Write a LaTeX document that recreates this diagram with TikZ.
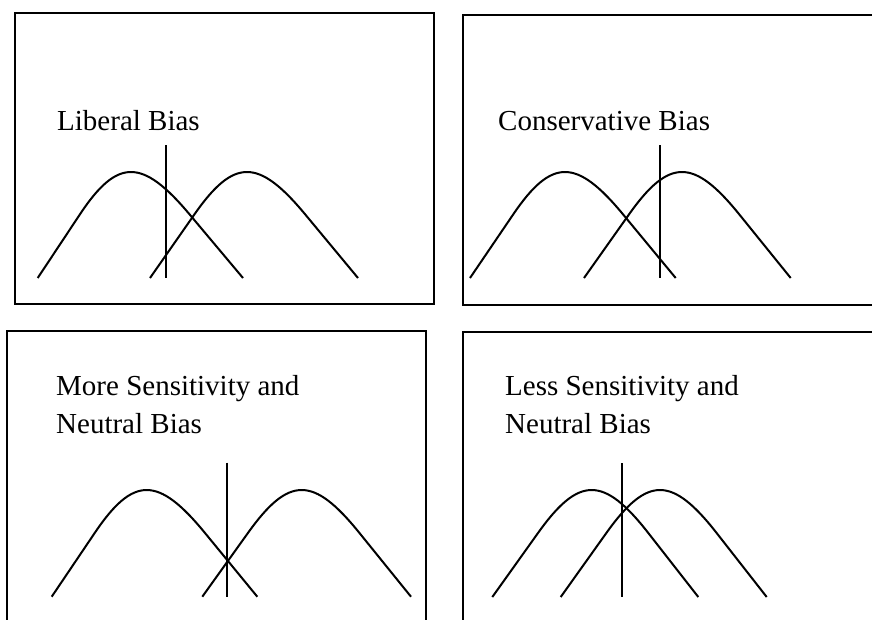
\documentclass[tikz,border=0pt]{standalone}
\usepackage{fontspec}
\usetikzlibrary{calc}
\setmainfont{Liberation Serif}
\begin{document}
\begin{tikzpicture}[x=1pt,y=-1pt,
  panel/.style={line width=2pt,draw=black},
  bell/.style={line width=2pt,line join=round},
  crit/.style={line width=1.6pt},
  lbl/.style={inner sep=0pt,anchor=base west,align=left,font=\fontsize{29}{38}\selectfont}]
\useasboundingbox (0,0) rectangle (872,619);
\clip (0,0) rectangle (872,619);
\newcommand\bellcurve[5]{% start x, peak x, end x, base y, peak y
  \coordinate (bS) at (#1,#4); \coordinate (bE) at (#3,#4);
  \coordinate (bQl) at ({#2-23},#5); \coordinate (bQr) at ({#2+23},#5);
  \draw[bell] (bS) -- ($(bS)!0.6!(bQl)$) .. controls ($(bS)!1.1333!(bQl)$) and ($(bE)!1.1333!(bQr)$) .. ($(bE)!0.6!(bQr)$) -- (bE);}
% panel 1
\draw[panel] (15,13) rectangle (434,304);
\node[lbl] (t1) at (57,130.7) {Liberal Bias};
\bellcurve{37.7}{131}{243}{278}{172}
\bellcurve{150}{247}{358}{278}{172}
\coordinate (v1a) at (165.7,145); \coordinate (v1b) at (165.7,278);
\draw[crit] (v1a) -- (v1b);
% panel 2
\draw[panel] (880,15) -- (463,15) -- (463,305) -- (880,305);
\node[lbl] (t2) at (498,130.7) {Conservative Bias};
\bellcurve{470}{565}{675.7}{278}{172}
\bellcurve{584}{682}{790.7}{278}{172}
\coordinate (v2a) at (660,145); \coordinate (v2b) at (660,278);
\draw[crit] (v2a) -- (v2b);
% panel 3
\draw[panel] (7.3,630) -- (7.3,330.7) -- (426,330.7) -- (426,630);
\node[lbl] (t3) at (56,433) {More Sensitivity and\\Neutral Bias};
\bellcurve{51.7}{146.7}{257.3}{596.7}{490}
\bellcurve{202.3}{301.7}{411}{596.7}{490}
\coordinate (v3a) at (226.7,462.7); \coordinate (v3b) at (226.7,596.7);
\draw[crit] (v3a) -- (v3b);
% panel 4
\draw[panel] (463.3,630) -- (463.3,331.7) -- (880,331.7);
\node[lbl] (t4) at (505,433) {Less Sensitivity and\\Neutral Bias};
\bellcurve{492.3}{591.7}{698.3}{597}{490}
\bellcurve{560.7}{660}{766.7}{597}{490}
\coordinate (v4a) at (621.7,463); \coordinate (v4b) at (621.7,597);
\draw[crit] (v4a) -- (v4b);
\end{tikzpicture}
\end{document}
